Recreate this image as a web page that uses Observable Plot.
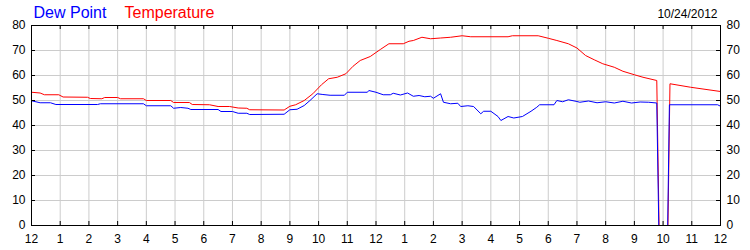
<!DOCTYPE html>
<html>
<head>
<meta charset="utf-8">
<script src="https://cdn.jsdelivr.net/npm/d3@7"></script>
<script src="https://cdn.jsdelivr.net/npm/@observablehq/plot@0.6"></script>
<style>
  html, body { margin: 0; padding: 0; background: #fff; }
  #chart svg { display: block; }
</style>
</head>
<body>
<div id="chart"></div>
<script>
// Hour ticks and labels (12 AM to 12 AM next day)
const hourTicks = d3.range(0, 25);
const hourLabels = ["12","1","2","3","4","5","6","7","8","9","10","11","12","1","2","3","4","5","6","7","8","9","10","11","12"];
const valueTicks = [0, 10, 20, 30, 40, 50, 60, 70, 80];

// Temperature series (hours since midnight, °F)
const tempHours = [0, 0.3, 0.45, 0.95, 1.1, 1.95, 2.05, 2.45, 2.55, 3.0, 3.1, 3.9, 4.0, 4.85, 4.95, 5.5, 5.6, 6.2, 6.5, 6.9, 7.2, 7.5, 7.6, 8.8, 9.0, 9.2, 9.5, 9.8, 10.1, 10.35, 10.65, 10.95, 11.2, 11.45, 11.8, 12.15, 12.45, 12.95, 13.15, 13.3, 13.6, 13.9, 14.25, 14.6, 15.0, 15.3, 16.6, 16.75, 17.65, 18.0, 18.3, 18.7, 19.0, 19.3, 19.6, 19.9, 20.3, 20.6, 21.0, 21.3, 21.78, 21.86, 22.17, 22.24, 22.96, 24];
const tempValues = [53.3, 53.0, 52.3, 52.3, 51.4, 51.3, 50.8, 50.7, 51.2, 51.2, 50.7, 50.7, 50.0, 50.0, 49.2, 49.2, 48.4, 48.3, 47.6, 47.6, 47.0, 46.9, 46.3, 46.2, 47.7, 48.3, 50.0, 52.7, 56.3, 58.7, 59.3, 60.7, 63.7, 66.0, 67.6, 70.4, 72.7, 72.7, 73.7, 74.0, 75.3, 74.7, 75.0, 75.3, 75.9, 75.5, 75.5, 75.9, 75.9, 74.9, 74.0, 72.7, 71.0, 68.0, 66.3, 64.7, 63.3, 61.7, 60.3, 59.3, 58.0, 0, 0, 56.7, 55.3, 53.6];

// Dew point series (hours since midnight, °F)
const dewHours = [0, 0.3, 0.66, 0.85, 2.3, 2.4, 3.9, 4.0, 4.85, 4.95, 5.2, 5.45, 5.55, 6.5, 6.6, 7.0, 7.2, 7.5, 7.6, 8.8, 9.0, 9.25, 9.5, 9.7, 9.95, 10.15, 10.4, 10.9, 11.0, 11.7, 11.75, 12.0, 12.25, 12.5, 12.6, 12.85, 13.1, 13.3, 13.5, 13.7, 13.9, 14.0, 14.25, 14.35, 14.6, 14.85, 14.95, 15.2, 15.4, 15.65, 15.75, 16.0, 16.25, 16.35, 16.6, 16.8, 17.1, 17.4, 17.6, 17.7, 18.2, 18.3, 18.5, 18.7, 19.0, 19.1, 19.4, 19.7, 20.0, 20.3, 20.6, 20.9, 21.2, 21.5, 21.78, 21.85, 22.16, 22.22, 23.9, 24];
const dewValues = [49.9, 49.1, 49.1, 48.4, 48.4, 48.7, 48.7, 47.9, 47.9, 46.9, 47.2, 46.9, 46.4, 46.4, 45.6, 45.6, 44.9, 44.9, 44.4, 44.5, 46.3, 46.5, 48.0, 50.0, 52.7, 52.4, 52.1, 52.1, 53.3, 53.3, 54.0, 53.3, 52.3, 52.3, 52.9, 52.2, 53.0, 51.7, 52.0, 51.5, 51.7, 50.9, 52.7, 49.3, 48.7, 48.9, 47.6, 47.9, 47.6, 44.7, 45.7, 45.7, 43.6, 42.0, 43.6, 43.0, 43.6, 45.7, 47.3, 48.3, 48.3, 50.0, 49.5, 50.3, 49.6, 49.3, 49.8, 49.1, 49.5, 49.0, 49.7, 49.0, 49.4, 49.3, 49.0, 0, 0, 48.3, 48.3, 47.7];

const seriesNames = ["Dew Point", "Temperature"];
const seriesColors = ["#0000ff", "#ff0000"];
const dateLabel = "10/24/2012";

const temp = tempHours.map((h, i) => ({h, v: tempValues[i]}));
const dew = dewHours.map((h, i) => ({h, v: dewValues[i]}));

const W = 750, H = 250, mL = 31, mR = 30, mT = 25, mB = 25;
const innerH = H - mT - mB, innerW = W - mL - mR;
const font = "'Liberation Sans', Arial, sans-serif";

const chart = Plot.plot({
  width: W,
  height: H,
  marginLeft: mL,
  marginRight: mR,
  marginTop: mT,
  marginBottom: mB,
  style: {fontFamily: font, fontSize: "12px", color: "#000", background: "#fff", overflow: "visible"},
  x: {domain: [0, 24]},
  y: {domain: [0, 80]},
  marks: [
    Plot.gridX(hourTicks, {stroke: "#cccccc", strokeOpacity: 1}),
    Plot.gridY(valueTicks, {stroke: "#cccccc", strokeOpacity: 1}),
    Plot.line(temp, {x: "h", y: "v", stroke: seriesColors[1], strokeWidth: 1}),
    Plot.line(dew, {x: "h", y: "v", stroke: seriesColors[0], strokeWidth: 1}),
    // inward tick marks
    Plot.tickX(hourTicks, {x: d => d, insetTop: innerH - 4, stroke: "#000"}),
    Plot.tickX(hourTicks, {x: d => d, insetBottom: innerH - 4, stroke: "#000"}),
    Plot.tickY(valueTicks, {y: d => d, insetRight: innerW - 4, stroke: "#000"}),
    Plot.tickY(valueTicks, {y: d => d, insetLeft: innerW - 4, stroke: "#000"}),
    Plot.frame({stroke: "#000"}),
    Plot.axisX(hourTicks, {anchor: "bottom", tickSize: 0, tickPadding: 9, tickFormat: (d, i) => hourLabels[i], fontSize: 12, label: null}),
    Plot.axisY(valueTicks, {anchor: "left", tickSize: 0, tickPadding: 6, fontSize: 12, label: null}),
    Plot.axisY(valueTicks, {anchor: "right", tickSize: 0, tickPadding: 6, fontSize: 12, label: null}),
    // legend / title text in the top margin
    Plot.text([seriesNames[0]], {frameAnchor: "top-left", text: d => d, textAnchor: "start", lineAnchor: "bottom", dx: 2, dy: -8, fill: seriesColors[0], fontSize: 16}),
    Plot.text([seriesNames[1]], {frameAnchor: "top-left", text: d => d, textAnchor: "start", lineAnchor: "bottom", dx: 93, dy: -8, fill: seriesColors[1], fontSize: 16}),
    Plot.text([dateLabel], {frameAnchor: "top-right", text: d => d, textAnchor: "end", lineAnchor: "bottom", dx: -3, dy: -8, fill: "#000", fontSize: 12})
  ]
});
document.getElementById("chart").appendChild(chart);
</script>
</body>
</html>
